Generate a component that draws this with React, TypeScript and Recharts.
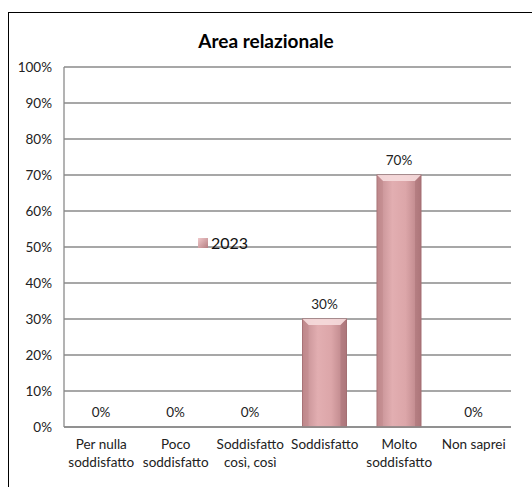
import React from "react";
import {
  BarChart,
  Bar,
  XAxis,
  YAxis,
  CartesianGrid,
  LabelList,
} from "recharts";

const categories = [
  "Per nulla\nsoddisfatto",
  "Poco\nsoddisfatto",
  "Soddisfatto\ncosì, così",
  "Soddisfatto",
  "Molto\nsoddisfatto",
  "Non saprei",
];
const values2023 = [0, 0, 0, 0.3, 0.7, 0];
const yTicks = [0, 0.1, 0.2, 0.3, 0.4, 0.5, 0.6, 0.7, 0.8, 0.9, 1];
const seriesName = "2023";

const data = categories.map((name, i) => ({ name, v2023: values2023[i] }));

const FONT = "Lato, 'Open Sans', sans-serif";
const pct = (v: number) => `${Math.round(v * 100)}%`;

function CategoryTick({ x, y, payload }: any) {
  const lines = String(payload.value).split("\n");
  return (
    <text x={x} y={y + 14} textAnchor="middle" fontSize={13.5} fill="#222" fontFamily={FONT}>
      {lines.map((l, i) => (
        <tspan key={i} x={x} dy={i === 0 ? 0 : 18}>
          {l}
        </tspan>
      ))}
    </text>
  );
}

function BevelBar({ x, y, width, height }: any) {
  if (!height || height <= 0) return null;
  const b = Math.min(6, height / 2);
  return (
    <g>
      <rect x={x} y={y} width={width} height={height} fill="url(#barGrad)" stroke="#a57175" strokeWidth={1} />
      <path
        d={`M${x},${y} L${x + width},${y} L${x + width - b},${y + b} L${x + b},${y + b} Z`}
        fill="#f6dcdd"
        opacity={0.9}
      />
      <path d={`M${x},${y} L${x + b},${y + b} L${x + b},${y + height} L${x},${y + height} Z`} fill="#b98084" opacity={0.35} />
      <path
        d={`M${x + width},${y} L${x + width - b},${y + b} L${x + width - b},${y + height} L${x + width},${y + height} Z`}
        fill="#a06a6e"
        opacity={0.4}
      />
    </g>
  );
}

export default function App() {
  return (
    <div
      style={{
        position: "absolute",
        left: 0,
        top: 0,
        width: 532,
        height: 487,
        background: "#fff",
        overflow: "hidden",
      }}
    >
      <div
        style={{
          position: "absolute",
          left: 8,
          top: 12,
          width: 540,
          height: 500,
          borderTop: "1.5px solid #000",
          borderLeft: "1.5px solid #000",
        }}
      />
      <div
        style={{
          position: "absolute",
          top: 29,
          left: 0,
          width: 532,
          textAlign: "center",
          fontFamily: FONT,
          fontWeight: 700,
          fontSize: 19,
          color: "#000",
        }}
      >
        Area relazionale
      </div>
      <div style={{ position: "absolute", left: 0, top: 0 }}>
        <BarChart
          width={532}
          height={487}
          data={data}
          margin={{ top: 67, right: 21, bottom: 0, left: 14 }}
          barSize={44}
        >
          <defs>
            <linearGradient id="barGrad" x1="0" y1="0" x2="1" y2="0">
              <stop offset="0%" stopColor="#c08b8f" />
              <stop offset="35%" stopColor="#e2aeb1" />
              <stop offset="65%" stopColor="#dca6a9" />
              <stop offset="100%" stopColor="#b57e82" />
            </linearGradient>
          </defs>
          <CartesianGrid vertical={false} stroke="#8a8a8a" strokeWidth={1.3} />
          <XAxis
            dataKey="name"
            interval={0}
            height={60}
            tickLine={false}
            axisLine={{ stroke: "#8a8a8a", strokeWidth: 1.3 }}
            tick={<CategoryTick />}
          />
          <YAxis
            width={50}
            domain={[0, 1]}
            ticks={yTicks}
            tickFormatter={pct}
            tickLine={false}
            tickMargin={6}
            axisLine={{ stroke: "#8a8a8a", strokeWidth: 1.3 }}
            tick={{ fontSize: 13.5, fill: "#222", fontFamily: FONT }}
          />
          <Bar dataKey="v2023" name={seriesName} shape={<BevelBar />} isAnimationActive={false}>
            <LabelList
              dataKey="v2023"
              position="top"
              offset={10}
              formatter={(v: any) => pct(Number(v))}
              style={{ fontSize: 13.5, fill: "#222", fontFamily: FONT }}
            />
          </Bar>
        </BarChart>
      </div>
      <div
        style={{
          position: "absolute",
          left: 198,
          top: 233,
          display: "flex",
          alignItems: "center",
          fontFamily: FONT,
          fontSize: 16,
          color: "#111",
        }}
      >
        <span
          style={{
            display: "inline-block",
            width: 10,
            height: 10,
            background: "linear-gradient(135deg, #f0c9cb, #b57d81)",
            marginRight: 3,
          }}
        />
        <span>{seriesName}</span>
      </div>
    </div>
  );
}
